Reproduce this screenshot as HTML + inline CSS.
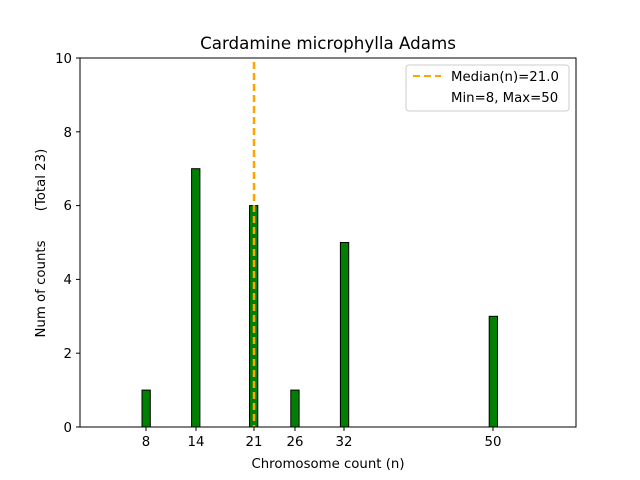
<html><body style="margin:0;background:#fff">
<svg width="640" height="480" xmlns="http://www.w3.org/2000/svg" font-family="DejaVu Sans, Liberation Sans, sans-serif">
<rect width="640" height="480" fill="#fff"/>
<text x="328" y="49" font-size="16.7" text-anchor="middle">Cardamine microphylla Adams</text>
<line x1="142" y1="427" x2="522" y2="427" stroke="#888" stroke-width="1"/>
<g fill="green" stroke="#000" stroke-width="1">
<rect x="142" y="390.1" width="8.3" height="36.9"/>
<rect x="191.6" y="168.7" width="8.3" height="258.3"/>
<rect x="249.5" y="205.6" width="8.3" height="221.4"/>
<rect x="290.8" y="390.1" width="8.3" height="36.9"/>
<rect x="340.4" y="242.5" width="8.3" height="184.5"/>
<rect x="489.2" y="316.3" width="8.3" height="110.7"/>
</g>
<line x1="254" y1="62" x2="254" y2="427" stroke="orange" stroke-width="2.5" stroke-dasharray="7,4"/>
<rect x="80" y="58" width="496" height="369" fill="none" stroke="#000" stroke-width="1"/>
<g stroke="#000">
<line x1="80" y1="427" x2="76" y2="427"/><line x1="80" y1="353.2" x2="76" y2="353.2"/><line x1="80" y1="279.4" x2="76" y2="279.4"/><line x1="80" y1="205.6" x2="76" y2="205.6"/><line x1="80" y1="131.8" x2="76" y2="131.8"/><line x1="80" y1="58" x2="76" y2="58"/>
<line x1="146" y1="427" x2="146" y2="431"/><line x1="196" y1="427" x2="196" y2="431"/><line x1="254" y1="427" x2="254" y2="431"/><line x1="295" y1="427" x2="295" y2="431"/><line x1="344" y1="427" x2="344" y2="431"/><line x1="493" y1="427" x2="493" y2="431"/>
</g>
<g font-size="13.3" text-anchor="end">
<text x="72" y="432">0</text><text x="72" y="358">2</text><text x="72" y="284">4</text><text x="72" y="210">6</text><text x="72" y="137">8</text><text x="72" y="63">10</text>
</g>
<g font-size="13.3" text-anchor="middle">
<text x="146" y="446">8</text><text x="196" y="446">14</text><text x="254" y="446">21</text><text x="295" y="446">26</text><text x="344" y="446">32</text><text x="493" y="446">50</text>
<text x="328" y="468">Chromosome count (n)</text>
</g>
<text transform="translate(45,289) rotate(-90)" font-size="13.3" text-anchor="middle">Num of counts</text>
<text transform="translate(45,180) rotate(-90)" font-size="13.3" text-anchor="middle">(Total 23)</text>
<rect x="406" y="65" width="163" height="46" rx="3" fill="#fff" stroke="#ccc"/>
<line x1="413" y1="76" x2="441" y2="76" stroke="orange" stroke-width="2" stroke-dasharray="7,4"/>
<text x="451" y="81" font-size="13.3">Median(n)=21.0</text>
<text x="451" y="102" font-size="13.3">Min=8, Max=50</text>
</svg>
</body></html>
